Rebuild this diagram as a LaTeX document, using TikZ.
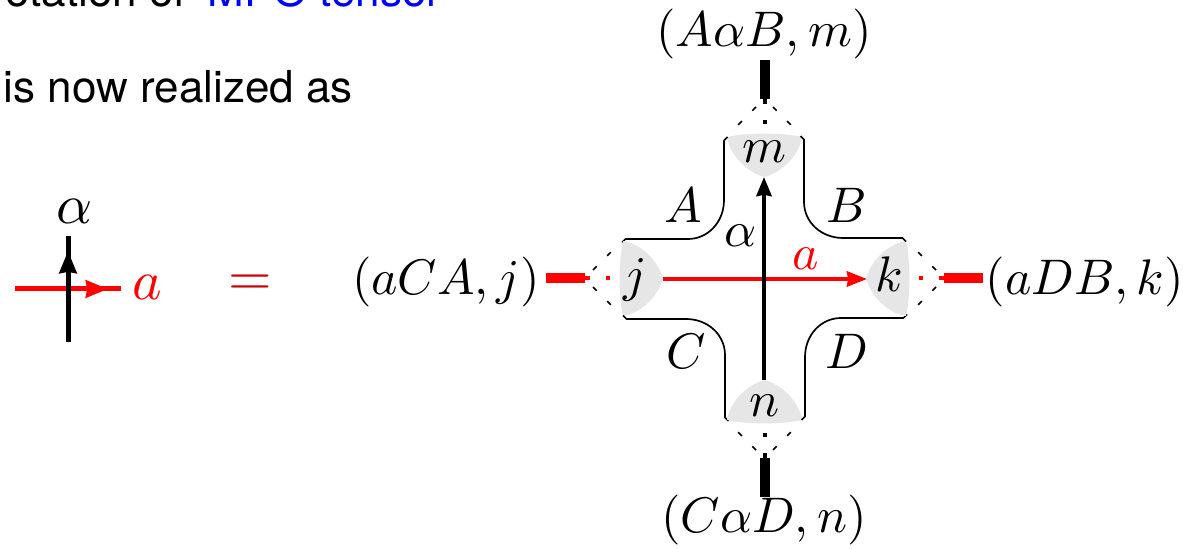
\documentclass[tikz,border=0pt]{standalone}
\usepackage[no-math]{fontspec}
\setmainfont{TeX Gyre Heros}
\usetikzlibrary{arrows.meta}
% same design size at every scale
\DeclareFontShape{OML}{cmm}{m}{it}{<->cmmi10}{\skewchar\font'177}
\DeclareFontShape{OT1}{cmr}{m}{n}{<->cmr10}{}
\DeclareFontShape{OMS}{cmsy}{m}{n}{<->cmsy10}{\skewchar\font'60}
\definecolor{lens}{HTML}{E6E6E6}
\definecolor{eqred}{HTML}{CC0000}
\tikzset{
	sym/.style={inner sep=0pt, anchor=base, font=\fontsize{25}{29}\selectfont},
	bigsym/.style={inner sep=0pt, anchor=base, font=\fontsize{28}{33}\selectfont},
	words/.style={inner sep=0pt, anchor=base west, font=\fontsize{22}{26}\selectfont},
	leg/.style={line width=2.5pt},
	arm/.style={line width=0.85pt, line join=round},
	gap/.style={line width=0.75pt, dash pattern=on 2.6pt off 7.4pt},
	headk/.style={-{Stealth[length=9.5pt,width=7.5pt,inset=0.6pt]}},
	headr/.style={-{Stealth[length=10pt,width=7.5pt,inset=0.6pt]}},
	headbig/.style={-{Stealth[length=11pt,width=8.5pt,inset=0.6pt]}}
}

\begin{document}
\begin{tikzpicture}[x=0.5pt, y=-0.5pt]

	\clip (0,0) rectangle (1183,549);

	% ---- main coordinates ----
	\coordinate (cen) at (764.5,278.5);
	\coordinate (jtip) at (663,279);  % lens j
	\coordinate (ktip) at (867,279);  % lens k
	\coordinate (mtip) at (764,177);  % lens m
	\coordinate (ntip) at (764,380);  % lens n

	% ---- text on the left ----
	\node[words] (line1) at (5,7) {otation of};
	\node[words, text=blue] (line2) at (207,7) {MPO tensor};
	\node[words] (line3) at (3.5,103) {is now realized as};

	% ---- small crossing ----
	\coordinate (rs) at (15,289);
	\coordinate (rh) at (108,289);
	\coordinate (re) at (121,289);
	\coordinate (bs) at (68,342);
	\coordinate (bh) at (68,251);
	\coordinate (be) at (68,236);
	\draw[leg, red] (rs) -- (re);
	\draw[leg, red, headbig] (rs) -- (rh);
	\draw[leg] (bs) -- (be);
	\draw[leg, headbig] (bs) -- (bh);
	\node[bigsym] (alf) at (75,224) {$\alpha$};
	\node[bigsym, text=red] (aa) at (147,300) {$a$};
	\node[bigsym, text=eqred] (eq) at (250,296) {$=$};

	% ---- the four lenses, arms and open legs ----
	\foreach \ang/\col in {0/black,90/red,180/black,270/red}{
			\begin{scope}[rotate around={\ang:(cen)}]
				\fill[lens] (727,137) .. controls (745,132.5) and (784,132.5) .. (802,137)
				.. controls (799,156) and (782,172) .. (764.5,177)
				.. controls (747,172) and (730,156) .. (727,137) -- cycle;
				\draw[arm] (727.5,137) -- (724,140.5) -- (724,200)
				.. controls (724,222) and (708,239) .. (688,239)
				-- (625.5,239) -- (622,242.5);
				\draw[gap] (738.2,124.8) -- (756,107);
				\draw[gap] (790.8,124.8) -- (773,107);
				\fill[\col] (762.5,120) rectangle (766.5,124);
				\fill[\col] (762.5,99) rectangle (766.5,104);
				\fill[\col] (759.5,60) rectangle (769.5,99);
			\end{scope}
		}

	% ---- strands through the middle ----
	\draw[line width=2pt, red, headr] (jtip) -- (ktip);
	\draw[line width=2pt, headk] (ntip) -- (mtip);

	% ---- labels ----
	\node[sym] (m) at (764,163) {$m$};
	\node[sym] (n) at (764,417) {$n$};
	\node[sym] (j) at (635,292) {$j$};
	\node[sym] (k) at (889,292) {$k$};
	\node[sym] (A) at (683,223) {$A$};
	\node[sym] (B) at (847,223) {$B$};
	\node[sym] (C) at (686,369) {$C$};
	\node[sym] (D) at (847,369) {$D$};
	\node[sym] (alfa) at (741,247) {$\alpha$};
	\node[sym, text=red] (red) at (806,270) {$a$};
	\node[sym] (top) at (764,47) {$(A\alpha B,m)$};
	\node[sym] (bot) at (764,533) {$(C\alpha D,n)$};
	\node[sym] (left) at (446,295) {$(aCA,j)$};
	\node[sym] (right) at (1085,295) {$(aDB,k)$};

\end{tikzpicture}
\end{document}
